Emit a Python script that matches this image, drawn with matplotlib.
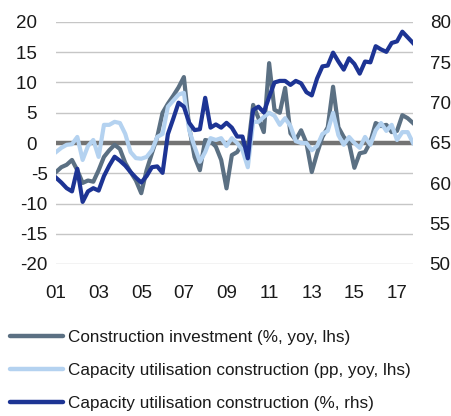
import matplotlib
matplotlib.use("Agg")
import matplotlib.pyplot as plt
import numpy as np

plt.rcParams['font.family'] = ['Liberation Sans', 'DejaVu Sans']

# Quarterly data 2001Q1 - 2017Q4
year_labels = ['01', '03', '05', '07', '09', '11', '13', '15', '17']

construction_investment = [
    -4.8, -4.0, -3.6, -2.8, -4.5, -6.6, -6.2, -6.4,
    -4.5, -2.3, -1.2, -0.3, -1.0, -3.3, -4.8, -6.2,
    -8.3, -4.5, -1.7, 1.0, 5.0, 6.5, 7.8, 9.2,
    10.9, 2.6, -2.3, -4.5, 0.5, 0.3, -0.6, -2.8,
    -7.5, -2.0, -1.5, 0.0, -1.0, 6.3, 4.1, 1.8,
    13.2, 5.5, 5.0, 9.1, 1.6, 0.5, 2.1, 0.0,
    -4.8, -1.7, 1.0, 2.6, 9.3, 2.6, 1.0, 0.0,
    -4.1, -1.7, -1.5, 0.2, 3.3, 2.8, 3.0, 1.8,
    2.0, 4.6, 4.1, 3.3]

capacity_util_pp = [
    -1.5, -0.8, -0.3, -0.2, 1.0, -2.8, -0.5, 0.5,
    -2.3, 3.0, 3.0, 3.5, 3.3, 1.5, -1.5, -2.5,
    -2.6, -2.3, -1.2, 1.0, 1.5, 6.0, 7.0, 8.0,
    8.3, 2.1, -0.6, -3.1, -1.5, 0.8, 0.5, 0.8,
    -0.5, 0.8, 0.0, -1.2, -4.0, 3.5, 3.5, 4.3,
    5.0, 4.5, 3.0, 4.1, 2.8, 0.3, 0.0, 0.0,
    -1.2, -0.5, 1.5, 2.0, 5.0, 1.3, -0.3, 1.0,
    0.0, -0.8, 1.0, -0.3, 2.1, 3.3, 2.0, 3.0,
    0.5, 1.8, 1.8, 0.0]

capacity_util_pct = [
    60.7, 60.1, 59.4, 59.0, 61.8, 57.7, 59.0, 59.4,
    59.1, 60.9, 62.2, 63.3, 62.8, 62.2, 61.4, 60.7,
    60.1, 60.9, 62.0, 62.1, 61.3, 66.1, 68.0, 70.0,
    69.5, 67.5, 66.6, 66.7, 70.6, 66.9, 67.3, 66.9,
    67.5, 66.9, 65.8, 65.8, 63.1, 69.1, 69.5, 68.8,
    70.7, 72.5, 72.7, 72.7, 72.2, 72.7, 72.4, 71.3,
    70.9, 73.0, 74.5, 74.6, 76.2, 75.1, 74.1, 75.5,
    74.8, 73.6, 75.1, 75.0, 77.0, 76.6, 76.3, 77.4,
    77.6, 78.8, 78.1, 77.4]

labels = ['Construction investment (%, yoy, lhs)',
          'Capacity utilisation construction (pp, yoy, lhs)',
          'Capacity utilisation construction (%, rhs)']

c_slate = '#5b7083'
c_light = '#b4d2f0'
c_navy = '#1d3494'

W, H = 451, 416
fig = plt.figure(figsize=(W / 100, H / 100), dpi=100)
left, right, top, bottom = 56, 413, 22, 264
ax = fig.add_axes([left / W, 1 - bottom / H, (right - left) / W, (bottom - top) / H])
ax2 = ax.twinx()

x = np.arange(len(construction_investment))
lw = 3.0
l1, = ax.plot(x, construction_investment, color=c_slate, lw=lw, solid_joinstyle='round', zorder=3)
l2, = ax.plot(x, capacity_util_pp, color=c_light, lw=lw, solid_joinstyle='round', zorder=4)
l3, = ax2.plot(x, capacity_util_pct, color=c_navy, lw=lw, solid_joinstyle='round', zorder=3)

ax.set_xlim(0, len(x) - 1)
ax.set_ylim(-20, 20)
ax2.set_ylim(50, 80)

yt = np.arange(-20, 21, 5)
ax.set_yticks(yt)
ax.set_yticklabels([(f'{v}' if v < 0 else f'{v}  ') for v in yt])
ax2.set_yticks(np.arange(50, 81, 5))

for v in yt:
    if v != 0:
        ax.axhline(v, color='#c6c6c6', lw=1.0, zorder=1)
ax.axhline(0, color='#737373', lw=3.2, zorder=2)

ax.set_xticks(x[::8])
ax.set_xticklabels(year_labels)

for a in (ax, ax2):
    for s in a.spines.values():
        s.set_visible(False)
    a.tick_params(length=0, labelsize=13.5, colors='#1a1a1a')
ax.tick_params(axis='y', pad=6)
ax.tick_params(axis='x', pad=15)
ax2.tick_params(axis='y', pad=12)

leg = fig.legend([l1, l2, l3], labels, loc='upper left',
                 bbox_to_anchor=(10 / W, 1 - 330 / H), frameon=False,
                 fontsize=12.3, handlelength=3.1, handletextpad=0.3,
                 labelspacing=1.04, borderpad=0, borderaxespad=0)
for t in leg.get_texts():
    t.set_color('#1a1a1a')
for h in leg.legend_handles:
    h.set_solid_capstyle('round')
    h.set_linewidth(3.2)

fig.savefig('out.png', dpi=100)
